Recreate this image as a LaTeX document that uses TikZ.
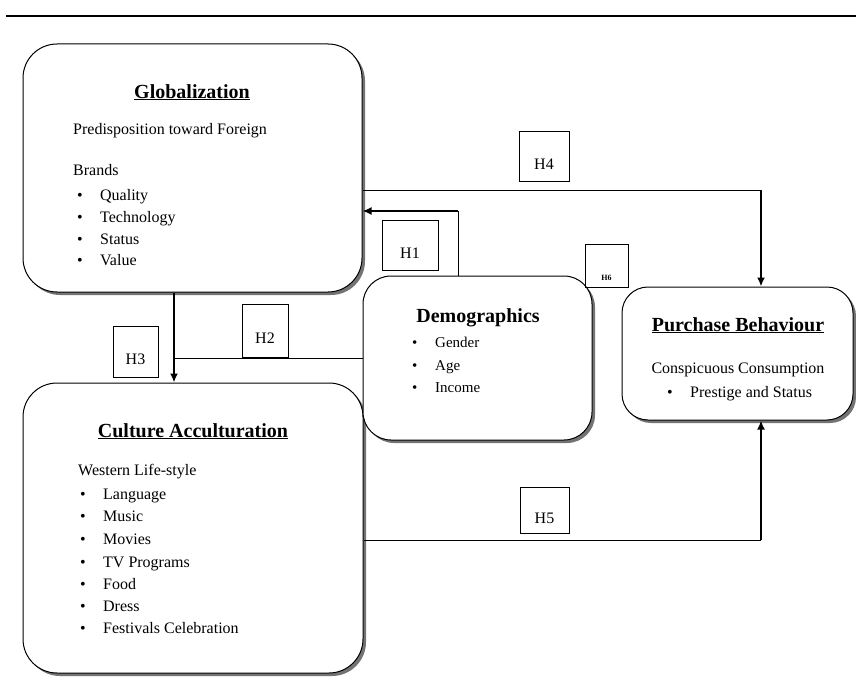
\documentclass[tikz,border=0pt]{standalone}
\usepackage{fontspec}
\setmainfont{Liberation Serif}
\usetikzlibrary{arrows.meta,shadows}
\tikzset{
  card/.style={draw,line width=1pt,fill=white,rounded corners=#1,
    drop shadow={shadow xshift=3pt,shadow yshift=-3pt,fill=black!55,opacity=1}},
  card/.default=34pt,
  head/.style={anchor=base,inner sep=0pt,font=\fontsize{20}{24}\selectfont\bfseries},
  txt/.style={anchor=base west,inner sep=0pt,font=\fontsize{16}{19}\selectfont},
  small/.style={anchor=base west,inner sep=0pt,font=\fontsize{15}{18}\selectfont},
  hbox/.style={draw,line width=0.8pt,inner sep=0pt,text height=26pt,text depth=0pt,
    font=\fontsize{16}{19}\selectfont},
  hyp/.style={line width=2pt,-{Latex[length=9pt,width=8pt]}},
  link/.style={line width=1pt},
}
\newcommand{\bul}{\makebox[23pt][l]{\textbullet}}
\begin{document}
\begin{tikzpicture}[x=1pt,y=-1pt]
\useasboundingbox (0,0) rectangle (856,685);
\draw[line width=2pt](6,16)--(856,16);
% boxes
\node[card,minimum width=339pt,minimum height=248pt](glob) at (192.5,168){};
\node[card,minimum width=340pt,minimum height=290pt](cult) at (193,528){};
\node[card=28pt,minimum width=229pt,minimum height=164pt](demo) at (477.5,358){};
\node[card=26pt,minimum width=231pt,minimum height=133pt](purch) at (737.5,353.5){};
% globalization
\node[head](globt) at (192,98){\underline{Globalization}};
\node[txt](pred) at (73,134){Predisposition toward Foreign};
\node[txt](brand) at (73,175){Brands};
\node[txt](qual) at (77,200){\bul Quality};
\node[txt](tech) at (77,222){\bul Technology};
\node[txt](stat) at (77,244){\bul Status};
\node[txt](valu) at (77,265){\bul Value};
% culture
\node[head](cultt) at (193,437){\underline{Culture Acculturation}};
\node[txt](west) at (78,475){Western Life-style};
\node[txt](lang) at (80,499){\bul Language};
\node[txt](musi) at (80,521){\bul Music};
\node[txt](movi) at (80,544){\bul Movies};
\node[txt](tvpr) at (80,567){\bul TV Programs};
\node[txt](food) at (80,589){\bul Food};
\node[txt](dres) at (80,611){\bul Dress};
\node[txt](fest) at (80,633){\bul Festivals Celebration};
% demographics
\node[head](demot) at (478,322){Demographics};
\node[small](gend) at (412,347){\bul Gender};
\node[small](age) at (412,370){\bul Age};
\node[small](inco) at (412,392){\bul Income};
% purchase
\node[head](purcht) at (738,331){\underline{Purchase Behaviour}};
\node[txt,anchor=base](consp) at (738,373){Conspicuous Consumption};
\node[txt](prest) at (667,397){\bul Prestige and Status};
% hypotheses
\node[hbox,minimum width=50pt,minimum height=50pt](h4) at (544,156){H4};
\node[hbox,minimum width=56pt,minimum height=50pt](h1) at (410,245){H1};
\node[hbox,minimum width=46pt,minimum height=53pt](h2) at (265,330.5){H2};
\node[hbox,minimum width=45pt,minimum height=51pt](h3) at (135.5,351.5){H3};
\node[hbox,minimum width=49pt,minimum height=46pt](h5) at (544.5,510){H5};
\node[hbox,minimum width=43pt,minimum height=43pt,text height=30pt,font=\fontsize{8}{9}\selectfont\bfseries](h6) at (606.5,265.5){H6};
% connectors
\coordinate (h4turn) at (761,190);
\draw[link](glob.east |- h4turn)--(h4turn);
\draw[hyp](h4turn)--(purch.north -| h4turn);
\coordinate (h1turn) at (458,211);
\draw[link](demo.north -| h1turn)--(h1turn);
\draw[hyp](h1turn)--(glob.east |- h1turn);
\coordinate (h3join) at (174,357);
\draw[hyp](glob.south -| h3join)--(cult.north -| h3join);
\draw[link](demo.west)--(demo.west -| h3join);
\coordinate (h5turn) at (761,540);
\draw[link](cult.east |- h5turn)--(h5turn);
\draw[hyp](h5turn)--(purch.south -| h5turn);
\end{tikzpicture}
\end{document}
